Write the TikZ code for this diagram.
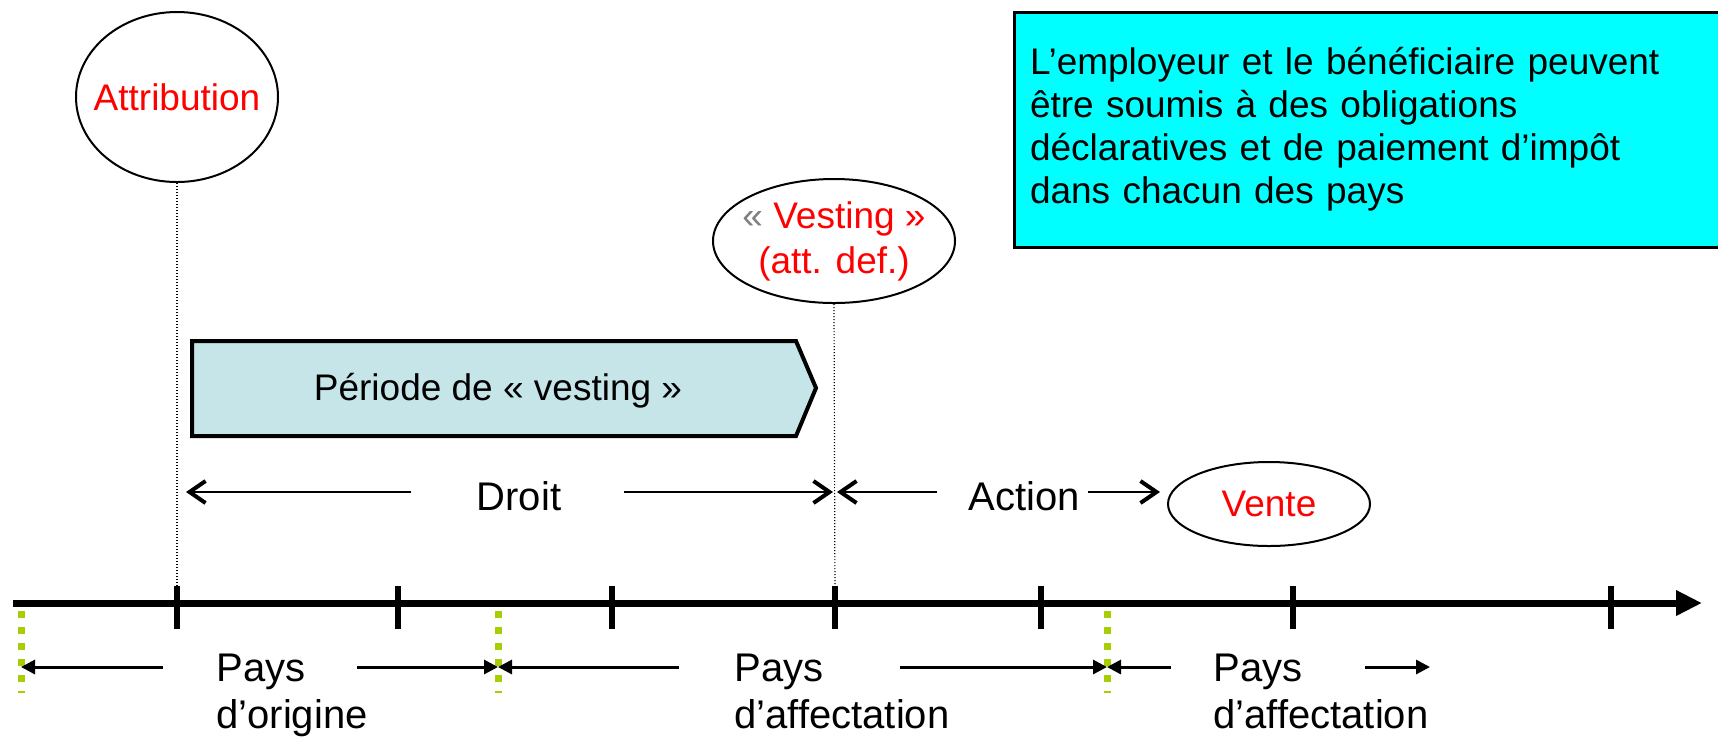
\documentclass[tikz,border=0pt]{standalone}
\usepackage{fontspec}
\setmainfont{Liberation Sans}
\usetikzlibrary{arrows.meta,shapes.geometric}
\definecolor{vgreen}{RGB}{166,206,0}
\definecolor{pfill}{RGB}{197,229,232}
\definecolor{boxcyan}{RGB}{0,255,255}
\definecolor{redtxt}{RGB}{255,0,0}
\definecolor{graytxt}{RGB}{128,128,128}
\begin{document}
\begin{tikzpicture}[x=0.5pt,y=-0.5pt,
  fa/.style={font=\fontsize{18.5pt}{22.5pt}\selectfont},
  fb/.style={font=\fontsize{20pt}{23.5pt}\selectfont},
  axisline/.style={line width=3.5pt,-{Triangle[length=13pt,width=12pt]}},
  tickst/.style={line width=3pt},
  gdash/.style={vgreen,line width=3.5pt,dash pattern=on 3.5pt off 4.5pt},
  dotline/.style={line width=0.6pt,dash pattern=on 0.6pt off 0.9pt},
  barrow/.style={line width=1.5pt,-{Triangle[length=7pt,width=7pt]}},
  marrow/.style={line width=1pt,-{Straight Barb[length=8pt,width=11pt,line width=2pt]}},
  evt/.style={ellipse,draw,line width=1pt,inner sep=0pt},
  evtxt/.style={fa,text=redtxt,align=center,inner sep=0pt},
  paylab/.style={fb,align=left,inner sep=0pt,anchor=base west},
  midlab/.style={fb,inner sep=0pt,anchor=base},
  infobox/.style={draw,line width=1.5pt,fill=boxcyan,fa,align=left,inner xsep=8pt,inner ysep=0pt}
]
\useasboundingbox (0,0) rectangle (1718,736);
\clip (0,0) rectangle (1718,736);

% info box
\node[infobox,minimum width=355.5pt,minimum height=117.5pt,text width=339.5pt] (info) at (1369.5,129.5)
  {L’employeur et le bénéficiaire peuvent\\[-1pt]être soumis à des obligations\\[-1pt]déclaratives et de paiement d’impôt\\[-1pt]dans chacun des pays};

% event ellipses
\node[evt,minimum width=101pt,minimum height=85pt,
  label={[evtxt]center:Attribution}] (attr) at (177,97) {};
\node[evt,minimum width=121pt,minimum height=62pt,
  label={[evtxt]center:{{\color{graytxt}«} Vesting »\\(att. def.)}}] (vest) at (834,241) {};
\node[evt,minimum width=101pt,minimum height=42pt,
  label={[evtxt]center:Vente}] (vente) at (1269,504) {};

% vesting period pentagon
\draw[fill=pfill,line width=2pt,line join=miter] (192,341) -- (796,341) -- (816,388) -- (796,436) -- (192,436) -- cycle;
\node[fa,inner sep=0pt] (period) at (498,391) {Période de « vesting »};

% axis and ticks
\coordinate (axL) at (13,603);
\coordinate (axR) at (1702,603);
\draw[axisline] (axL) -- (axR);
\coordinate (t1) at (177,603);
\coordinate (t2) at (398,603);
\coordinate (t3) at (612,603);
\coordinate (t4) at (835,603);
\coordinate (t5) at (1041,603);
\coordinate (t6) at (1293,603);
\coordinate (t7) at (1611,603);
\foreach \t in {t1,t2,t3,t4,t5,t6,t7}{\draw[tickst] (\t) ++(0,-17) -- ++(0,43);}

% dotted guides
\draw[dotline] (attr.south) -- (t1);
\draw[dotline] (vest.south) -- (t4);

% green country limits
\coordinate (g1) at (21,611);
\coordinate (g2) at (498,611);
\coordinate (g3) at (1107,611);
\foreach \g in {g1,g2,g3}{\draw[gdash] (\g) -- ++(0,82);}

% middle row: Droit / Action
\node[midlab] (droit) at (519,510) {Droit};
\node[midlab] (action) at (1024,510) {Action};
\coordinate (d1) at (411,492);
\coordinate (d1t) at (186,492);
\coordinate (d2) at (624,492);
\coordinate (d2t) at (833,492);
\coordinate (a1) at (937,492);
\coordinate (a1t) at (837,492);
\coordinate (a2) at (1088,492);
\coordinate (a2t) at (1160,492);
\draw[marrow] (d1) -- (d1t);
\draw[marrow] (d2) -- (d2t);
\draw[marrow] (a1) -- (a1t);
\draw[marrow] (a2) -- (a2t);

% bottom row: countries
\node[paylab] (pay1) at (216,728) {Pays\\d’origine};
\node[paylab] (pay2) at (734,728) {Pays\\d’affectation};
\node[paylab] (pay3) at (1213,728) {Pays\\d’affectation};
\coordinate (b1) at (163,667);
\coordinate (b2) at (357,667);
\coordinate (b3) at (679,667);
\coordinate (b4) at (900,667);
\coordinate (b5) at (1171,667);
\coordinate (b6) at (1365,667);
\coordinate (b6t) at (1430,667);
\draw[barrow] (b1) -- (g1 |- b1);
\draw[barrow] (b2) -- (g2 |- b2);
\draw[barrow] (b3) -- (g2 |- b3);
\draw[barrow] (b4) -- (g3 |- b4);
\draw[barrow] (b5) -- (g3 |- b5);
\draw[barrow] (b6) -- (b6t);
\end{tikzpicture}
\end{document}
